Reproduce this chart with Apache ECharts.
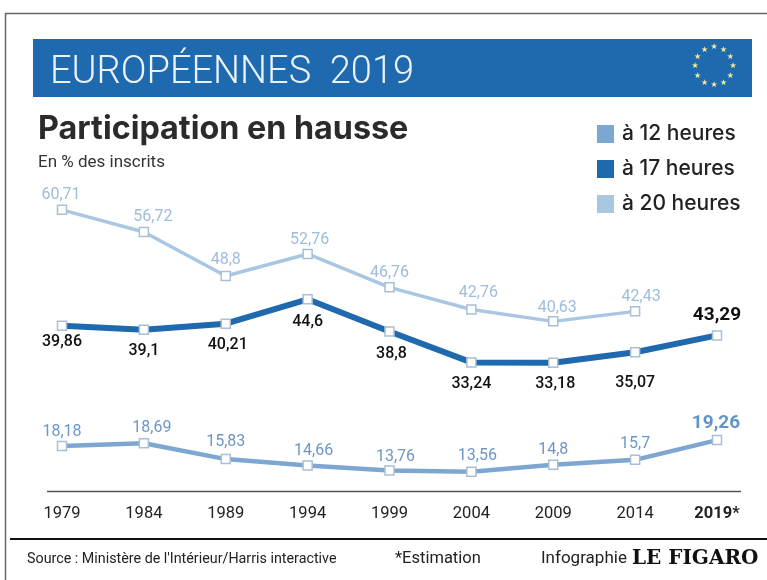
<!DOCTYPE html>
<html>
<head>
<meta charset="utf-8">
<style>
  html, body { margin: 0; padding: 0; background: #fff; }
  #chart { width: 767px; height: 580px; }
</style>
</head>
<body>
<div id="chart"></div>
<script src="https://cdn.jsdelivr.net/npm/echarts@6/dist/echarts.min.js"></script>
<script>
/* ===== data ===== */
const years = ["1979", "1984", "1989", "1994", "1999", "2004", "2009", "2014", "2019*"];
const h12 = [18.18, 18.69, 15.83, 14.66, 13.76, 13.56, 14.8, 15.7, 19.26];
/* the original drops the 2019 point to about 38.1 on its scale while printing 43,29 */
const h17 = [39.86, 39.1, 40.21, 44.6, 38.8, 33.24, 33.18, 35.07, 38.1];
const h20 = [60.71, 56.72, 48.8, 52.76, 46.76, 42.76, 40.63, 42.43, null];

const labels12 = ["18,18", "18,69", "15,83", "14,66", "13,76", "13,56", "14,8", "15,7", "19,26"];
const labels17 = ["39,86", "39,1", "40,21", "44,6", "38,8", "33,24", "33,18", "35,07", "43,29"];
const labels20 = ["60,71", "56,72", "48,8", "52,76", "46,76", "42,76", "40,63", "42,43", ""];

/* ===== colors ===== */
const BLUE_12 = "#7da7d1";
const BLUE_17 = "#1f69af";
const BLUE_20 = "#a9c7e3";
const FONT = "Roboto, sans-serif";

/* label nudges, x/y in px */
const offset12 = [[0, 2], [8, 1], [0, -1], [6, 2], [6, 3], [6, 1], [0, 1], [0, 0], [-1, 1]];
const offset17 = [[0, 0], [0, 5], [2, 5], [0, 6], [2, 6], [0, 5], [2, 5], [0, 15], [0, 1]];
const offset20 = [[-1, 1], [9, 1], [0, 0], [2, 2], [0, 2], [7, 0], [4, 3], [6, 2], [0, 0]];

const lineSeries = (name, values, labels, color, width, labelStyle, offsets, lastLabel) => ({
  name,
  type: "line",
  data: values.map((v, i) => ({
    value: v,
    label: {
      offset: offsets[i],
      formatter: labels[i],
      ...(i === values.length - 1 ? lastLabel : {}),
    },
  })),
  symbol: "rect",
  symbolSize: 9,
  showAllSymbol: true,
  connectNulls: false,
  lineStyle: { color, width },
  itemStyle: { color: "#fff", borderColor: "#a9bfd8", borderWidth: 1.5 },
  label: {
    show: true,
    fontFamily: FONT,
    fontSize: 16,
    ...labelStyle,
  },
  z: 3,
});

/* ===== stars ===== */
const stars = [];
for (let i = 0; i < 12; i++) {
  const a = (i / 12) * Math.PI * 2;
  stars.push({
    type: "text",
    x: 714 + Math.cos(a) * 19,
    y: 66 + Math.sin(a) * 19,
    style: {
      text: "★",
      fill: "#f2ec96",
      font: "8px 'DejaVu Sans'",
      align: "center",
      verticalAlign: "middle",
    },
    z: 5,
  });
}

const chart = echarts.init(document.getElementById("chart"), null, { renderer: "canvas" });

chart.setOption({
  animation: false,
  backgroundColor: "#fff",
  textStyle: { fontFamily: FONT },

  title: [
    {
      text: "EUROPÉENNES  2019",
      left: 50,
      top: 54,
      padding: 0,
      textStyle: { color: "#eaf3fa", fontFamily: FONT, fontWeight: 300, fontSize: 38 },
    },
    {
      text: "Participation en hausse",
      left: 38,
      top: 113,
      padding: 0,
      textStyle: { color: "#2b2b2b", fontFamily: "Inter, Roboto, sans-serif", fontWeight: "bold", fontSize: 32.3 },
    },
    {
      text: "En % des inscrits",
      left: 38,
      top: 154,
      padding: 0,
      textStyle: { color: "#333", fontFamily: FONT, fontWeight: "normal", fontSize: 17 },
    },
  ],

  legend: {
    orient: "vertical",
    left: 597,
    top: 123,
    padding: 0,
    icon: "rect",
    itemWidth: 17,
    itemHeight: 18,
    itemGap: 13,
    selectedMode: false,
    data: [
      { name: "à 12 heures", itemStyle: { color: BLUE_12, borderWidth: 0 } },
      { name: "à 17 heures", itemStyle: { color: BLUE_17, borderWidth: 0 } },
      { name: "à 20 heures", itemStyle: { color: BLUE_20, borderWidth: 0 } },
    ],
    textStyle: { color: "#222", fontFamily: "Inter, Roboto, sans-serif", fontWeight: 500, fontSize: 21, lineHeight: 22, padding: [0, 0, 0, 3] },
  },

  grid: { left: 62, right: 50, top: 186, bottom: 88.5 },

  xAxis: {
    type: "category",
    data: years,
    boundaryGap: false,
    axisLine: { show: false },
    axisTick: { show: false },
    axisLabel: {
      interval: 0,
      margin: 14,
      fontFamily: FONT,
      fontSize: 16.5,
      color: "#222",
      formatter: (v) => (v.endsWith("*") ? `{b|${v}}` : v),
      rich: { b: { fontFamily: FONT, fontSize: 16.5, fontWeight: "bold", color: "#222" } },
    },
  },

  yAxis: { type: "value", min: 10, max: 65, show: false },

  series: [
    lineSeries("à 20 heures", h20, labels20, BLUE_20, 3.5, { position: "top", distance: 3, color: "#9dbddd" }, offset20, {}),
    lineSeries("à 17 heures", h17, labels17, BLUE_17, 6, { position: "bottom", distance: 3, color: "#111", fontWeight: 500 }, offset17, {
      position: "top",
      distance: 6,
      fontSize: 19,
      fontWeight: "bold",
      color: "#111",
    }),
    lineSeries("à 12 heures", h12, labels12, BLUE_12, 4.5, { position: "top", distance: 3, color: "#6c97c6" }, offset12, {
      fontSize: 19,
      fontWeight: "bold",
      color: "#5f95c9",
    }),
  ],

  graphic: [
    /* cadre */
    { type: "line", shape: { x1: 5.5, y1: 13, x2: 5.5, y2: 580 }, style: { stroke: "#666", lineWidth: 1.5 } },
    { type: "line", shape: { x1: 5, y1: 13.5, x2: 767, y2: 13.5 }, style: { stroke: "#666", lineWidth: 1.5 } },
    /* bandeau */
    { type: "rect", shape: { x: 33, y: 39, width: 719, height: 58 }, style: { fill: "#1f69af" }, z: -1 },
    ...stars,
    /* axe + separateur */
    { type: "line", shape: { x1: 47, y1: 491.5, x2: 741, y2: 491.5 }, style: { stroke: "#555", lineWidth: 1.5 } },
    { type: "line", shape: { x1: 10, y1: 539, x2: 767, y2: 539 }, style: { stroke: "#111", lineWidth: 2 } },
    /* pied */
    { type: "text", x: 27, y: 559, style: { text: "Source : Ministère de l'Intérieur/Harris interactive", font: "14.3px Roboto", fill: "#222", verticalAlign: "middle" } },
    { type: "text", x: 395, y: 559, style: { text: "*Estimation", font: "16.5px Roboto", fill: "#222", verticalAlign: "middle" } },
    { type: "text", x: 541, y: 559, style: { text: "Infographie", font: "17px Roboto", fill: "#222", verticalAlign: "middle" } },
    { type: "text", x: 632, y: 559, style: { text: "LE FIGARO", font: "bold 20px 'DejaVu Serif'", fill: "#111", verticalAlign: "middle" } },
  ],
});
</script>
</body>
</html>
